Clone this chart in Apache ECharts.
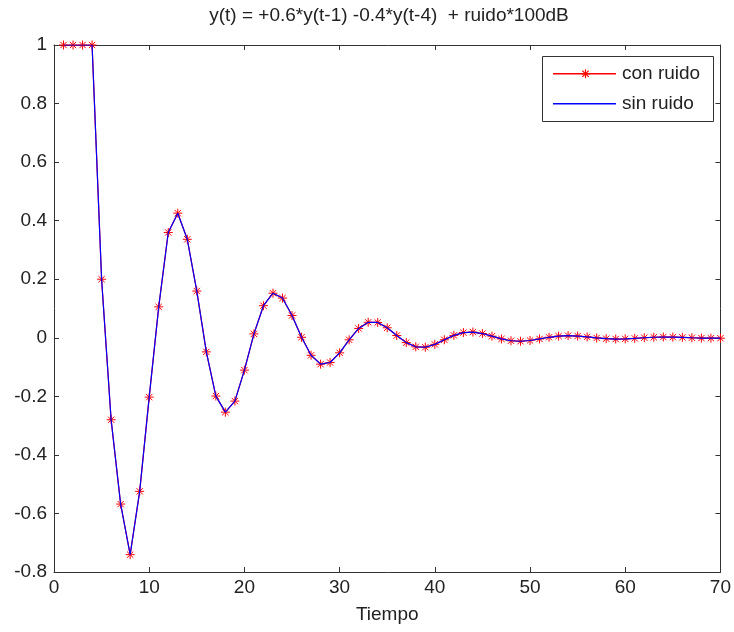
<!DOCTYPE html>
<html>
<head>
<meta charset="utf-8">
<script src="https://cdn.jsdelivr.net/npm/echarts@6/dist/echarts.min.js"></script>
<style>html,body{margin:0;padding:0;background:#fff;}#c{width:734px;height:632px;}</style>
</head>
<body>
<div id="c"></div>
<script>
const tiempo = [1,2,3,4,5,6,7,8,9,10,11,12,13,14,15,16,17,18,19,20,21,22,23,24,25,26,27,28,29,30,31,32,33,34,35,36,37,38,39,40,41,42,43,44,45,46,47,48,49,50,51,52,53,54,55,56,57,58,59,60,61,62,63,64,65,66,67,68,69,70];
const conRuido = [1,1,1,1,0.2,-0.28,-0.568,-0.7408,-0.5245,-0.2027,0.1056,0.3597,0.4256,0.3364,0.1596,-0.0481,-0.1991,-0.254,-0.2163,-0.1105,0.0133,0.1096,0.1523,0.1356,0.076,0.0018,-0.0598,-0.0901,-0.0845,-0.0514,-0.0069,0.0319,0.0529,0.0523,0.0342,0.0077,-0.0165,-0.0309,-0.0322,-0.0224,-0.0068,0.0082,0.0178,0.0196,0.0145,0.0054,-0.0039,-0.0102,-0.0119,-0.0093,-0.004,0.0017,0.0058,0.0072,0.0059,0.0029,-0.0006,-0.0032,-0.0043,-0.0037,-0.002,0.0001,0.0018,0.0026,0.0023,0.0014,0.0001,-0.001,-0.0015,-0.0015];
const sinRuido = [1,1,1,1,0.2,-0.28,-0.568,-0.7408,-0.5245,-0.2027,0.1056,0.3597,0.4256,0.3364,0.1596,-0.0481,-0.1991,-0.254,-0.2163,-0.1105,0.0133,0.1096,0.1523,0.1356,0.076,0.0018,-0.0598,-0.0901,-0.0845,-0.0514,-0.0069,0.0319,0.0529,0.0523,0.0342,0.0077,-0.0165,-0.0309,-0.0322,-0.0224,-0.0068,0.0082,0.0178,0.0196,0.0145,0.0054,-0.0039,-0.0102,-0.0119,-0.0093,-0.004,0.0017,0.0058,0.0072,0.0059,0.0029,-0.0006,-0.0032,-0.0043,-0.0037,-0.002,0.0001,0.0018,0.0026,0.0023,0.0014,0.0001,-0.001,-0.0015,-0.0015];
const seriesNames = ['con ruido', 'sin ruido'];
const titleText = 'y(t) = +0.6*y(t-1) -0.4*y(t-4)  + ruido*100dB';
const xName = 'Tiempo';

const FONT = '"Liberation Sans", Arial, sans-serif';
const TXT = '#222';
const AX = '#333';
const FS = 19;
const RED = '#ff0000';
const BLUE = '#0000ff';
const asterisk = 'path://M5,0L5,10M0,5L10,5M1.5,1.5L8.5,8.5M8.5,1.5L1.5,8.5';

// legend drawn as graphic elements (box, sample lines, marker, labels)
const LG = {x: 542.5, y: 56.5, w: 171, h: 65, lineX1: 553, lineX2: 616, textX: 622, row1: 73, row2: 103, mx: 585.5};
function seg(x1, y1, x2, y2, color) {
  return {type: 'polyline', shape: {points: [[x1, y1], [x2, y2]]},
    style: {stroke: color, lineWidth: 1.2, fill: null}, z: 12, silent: true};
}
const my = LG.row1 + 0.75;
const legendGraphic = [
  {type: 'rect', shape: {x: LG.x, y: LG.y, width: LG.w, height: LG.h},
    style: {fill: '#fff', stroke: AX, lineWidth: 1}, z: 10, silent: true},
  {type: 'rect', shape: {x: LG.lineX1, y: LG.row1, width: LG.lineX2 - LG.lineX1, height: 1.5},
    style: {fill: RED}, z: 11, silent: true},
  seg(LG.mx, my - 4.5, LG.mx, my + 4.5, RED),
  seg(LG.mx - 4.5, my, LG.mx + 4.5, my, RED),
  seg(LG.mx - 3.2, my - 3.2, LG.mx + 3.2, my + 3.2, RED),
  seg(LG.mx + 3.2, my - 3.2, LG.mx - 3.2, my + 3.2, RED),
  {type: 'text', x: LG.textX, y: LG.row1 + 0.5,
    style: {text: seriesNames[0], font: FS + 'px ' + FONT, fill: TXT, verticalAlign: 'middle', align: 'left'}, z: 12, silent: true},
  {type: 'rect', shape: {x: LG.lineX1, y: LG.row2, width: LG.lineX2 - LG.lineX1, height: 1.5},
    style: {fill: BLUE}, z: 11, silent: true},
  {type: 'text', x: LG.textX, y: LG.row2 + 0.5,
    style: {text: seriesNames[1], font: FS + 'px ' + FONT, fill: TXT, verticalAlign: 'middle', align: 'left'}, z: 12, silent: true}
];

const chart = echarts.init(document.getElementById('c'), null, {renderer: 'canvas'});
const axisBase = {
  axisLine: {show: true, onZero: false, lineStyle: {color: AX, width: 1}},
  axisTick: {show: true, inside: true, length: 5, lineStyle: {color: AX}},
  splitLine: {show: false}
};
chart.setOption({
  backgroundColor: '#fff',
  animation: false,
  title: {
    text: titleText, left: 384, textAlign: 'center', top: 1,
    textStyle: {fontFamily: FONT, fontSize: FS, fontWeight: 'normal', color: TXT}
  },
  graphic: legendGraphic,
  grid: {left: 54, right: 12, top: 45, bottom: 60, containLabel: false},
  xAxis: [
    Object.assign({
      type: 'value', min: 0, max: 70, interval: 10, position: 'bottom',
      name: xName, nameLocation: 'middle', nameGap: 33,
      nameTextStyle: {fontFamily: FONT, fontSize: FS, color: TXT},
      axisLabel: {fontFamily: FONT, fontSize: FS, color: TXT, margin: 6}
    }, axisBase),
    Object.assign({
      type: 'value', min: 0, max: 70, interval: 10, position: 'top',
      axisLabel: {show: false}
    }, axisBase)
  ],
  yAxis: [
    Object.assign({
      type: 'value', min: -0.8, max: 1, interval: 0.2, position: 'left',
      axisLabel: {fontFamily: FONT, fontSize: FS, color: TXT, margin: 7,
        formatter: v => String(Math.round(v * 10) / 10)}
    }, axisBase),
    Object.assign({
      type: 'value', min: -0.8, max: 1, interval: 0.2, position: 'right',
      axisLabel: {show: false}
    }, axisBase)
  ],
  series: [
    {
      name: seriesNames[0], type: 'line', xAxisIndex: 0, yAxisIndex: 0,
      data: tiempo.map((t, i) => [t, conRuido[i]]),
      symbol: asterisk, symbolSize: 9, showAllSymbol: true,
      lineStyle: {color: RED, width: 1.2},
      itemStyle: {color: RED, borderColor: RED, borderWidth: 1},
      z: 2
    },
    {
      name: seriesNames[1], type: 'line', xAxisIndex: 0, yAxisIndex: 0,
      data: tiempo.map((t, i) => [t, sinRuido[i]]),
      symbol: 'none',
      lineStyle: {color: BLUE, width: 1.2},
      itemStyle: {color: BLUE},
      z: 3
    }
  ]
});
</script>
</body>
</html>
